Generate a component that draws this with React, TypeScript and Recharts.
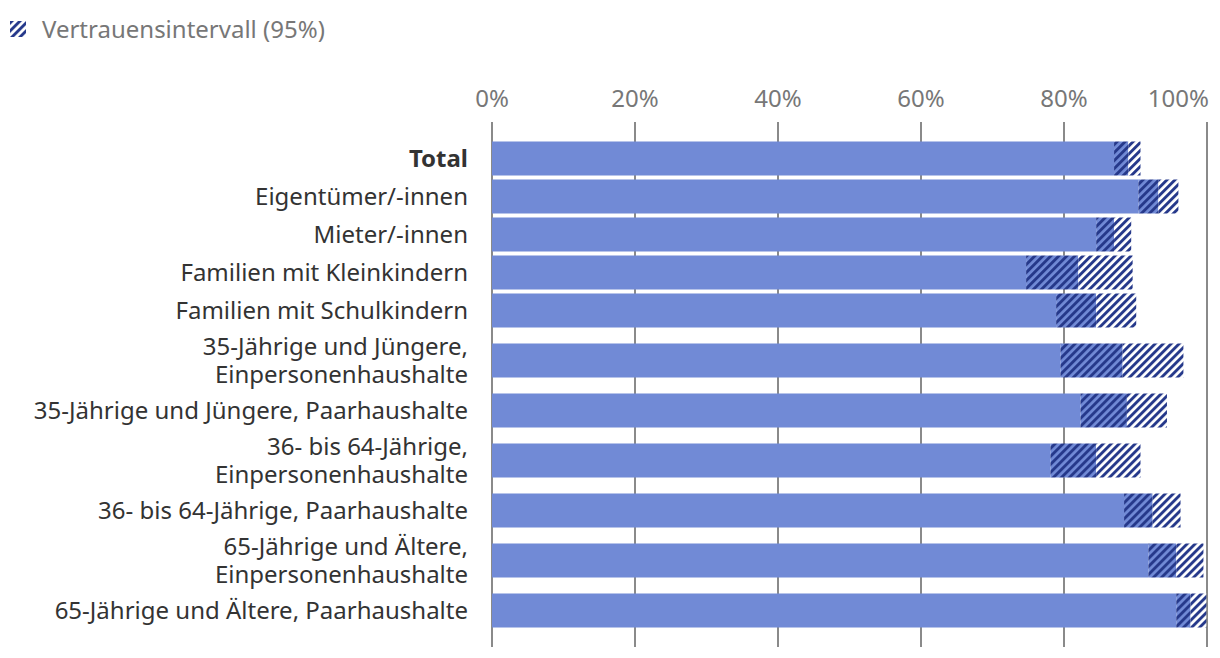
import React from "react";
import { ComposedChart, Bar, XAxis, YAxis, CartesianGrid } from "recharts";

const categories = [
  "Total",
  "Eigentümer/-innen",
  "Mieter/-innen",
  "Familien mit Kleinkindern",
  "Familien mit Schulkindern",
  "35-Jährige und Jüngere,\nEinpersonenhaushalte",
  "35-Jährige und Jüngere, Paarhaushalte",
  "36- bis 64-Jährige,\nEinpersonenhaushalte",
  "36- bis 64-Jährige, Paarhaushalte",
  "65-Jährige und Ältere,\nEinpersonenhaushalte",
  "65-Jährige und Ältere, Paarhaushalte",
];
const estimate = [89.0, 93.2, 87.0, 82.0, 84.5, 88.2, 88.8, 84.5, 92.4, 95.7, 97.7];
const lower = [87.0, 90.4, 84.5, 74.7, 78.9, 79.5, 82.3, 78.1, 88.4, 91.8, 95.7];
const upper = [90.7, 96.0, 89.4, 89.6, 90.1, 96.7, 94.4, 90.7, 96.3, 99.5, 99.9];
const xTicks = [0, 20, 40, 60, 80, 100];

const BAR = "#718ad6";
const DARK = "#26398b";
const FONT = "'Noto Sans', sans-serif";
const FS = 24;

// row slot size grows with the number of label lines
const lineCounts = categories.map((c) => c.split("\n").length);
const slotSizes = lineCounts.map((n) => 14 + 24 * n);
const positions: number[] = [];
let acc = 0;
slotSizes.forEach((s) => {
  positions.push(acc + s / 2);
  acc += s;
});
const totalSlots = acc;

const data = categories.map((c, i) => ({
  name: c,
  pos: positions[i],
  solid: lower[i],
  ciLow: estimate[i] - lower[i],
  ciHigh: upper[i] - estimate[i],
}));
const yTicks = data.map((d) => d.pos);

const YTick = (props: any) => {
  const { x, y, payload } = props;
  const idx = yTicks.findIndex((p) => Math.abs(p - payload.value) < 0.01);
  if (idx < 0) return null;
  const lines = categories[idx].split("\n");
  const lh = 28;
  const start = -((lines.length - 1) * lh) / 2;
  return (
    <text
      x={x}
      y={y}
      textAnchor="end"
      fill="#333"
      fontSize={FS}
      fontFamily={FONT}
      fontWeight={idx === 0 ? 700 : 400}
    >
      {lines.map((l, k) => (
        <tspan key={k} x={x} dy={k === 0 ? start + 8 : lh}>
          {l}
        </tspan>
      ))}
    </text>
  );
};

const XTick = (props: any) => {
  const { x, y, payload } = props;
  const last = payload.value === xTicks[xTicks.length - 1];
  return (
    <text
      x={last ? x + 2 : x}
      y={y}
      textAnchor={last ? "end" : "middle"}
      fill="#777"
      fontSize={FS}
      fontFamily={FONT}
    >
      {`${payload.value}%`}
    </text>
  );
};

export default function App() {
  return (
    <div style={{ position: "absolute", left: 0, top: 0, width: 1220, height: 658, background: "#fff", fontFamily: FONT }}>
      <div style={{ position: "absolute", left: 10, top: 12, display: "flex", alignItems: "center", color: "#777", fontSize: FS, fontFamily: FONT }}>
        <svg width={16} height={16} style={{ marginRight: 16 }}>
          <defs>
            <pattern id="legHatch" patternUnits="userSpaceOnUse" width="5.66" height="5.66" patternTransform="rotate(45)">
              <rect x="0" y="0" width="5.66" height="5.66" fill="#fff" />
              <rect x="0" y="0" width="2.9" height="5.66" fill={DARK} />
            </pattern>
          </defs>
          <rect x={0} y={0} width={16} height={16} fill="url(#legHatch)" />
        </svg>
        <span>Vertrauensintervall (95%)</span>
      </div>
      <ComposedChart
        width={1220}
        height={658}
        data={data}
        layout="vertical"
        margin={{ top: 0, right: 13, bottom: 11, left: 0 }}
      >
        <defs>
          <pattern id="hatchOnBar" patternUnits="userSpaceOnUse" width="5.66" height="5.66" patternTransform="rotate(45)">
            <rect x="0" y="0" width="5.66" height="5.66" fill={BAR} />
            <rect x="0" y="0" width="2.9" height="5.66" fill={DARK} />
          </pattern>
          <pattern id="hatchOnWhite" patternUnits="userSpaceOnUse" width="5.66" height="5.66" patternTransform="rotate(45)">
            <rect x="0" y="0" width="5.66" height="5.66" fill="#fff" />
            <rect x="0" y="0" width="2.9" height="5.66" fill={DARK} />
          </pattern>
        </defs>
        <CartesianGrid horizontal={false} vertical stroke="#8a8a8a" strokeWidth={2} />
        <XAxis
          type="number"
          orientation="top"
          domain={[0, 100]}
          ticks={xTicks}
          interval={0}
          axisLine={false}
          tickLine={false}
          tickSize={0}
          tickMargin={15}
          height={122}
          tick={<XTick />}
        />
        <YAxis
          type="number"
          dataKey="pos"
          domain={[0, totalSlots]}
          ticks={yTicks}
          interval={0}
          padding={{ top: 17.5, bottom: 17.5 }}
          axisLine={false}
          tickLine={false}
          tickSize={0}
          tickMargin={24}
          width={492}
          tick={<YTick />}
        />
        <Bar dataKey="solid" stackId="a" fill={BAR} barSize={34} isAnimationActive={false} />
        <Bar dataKey="ciLow" stackId="a" fill="url(#hatchOnBar)" barSize={34} isAnimationActive={false} />
        <Bar dataKey="ciHigh" stackId="a" fill="url(#hatchOnWhite)" barSize={34} isAnimationActive={false} />
      </ComposedChart>
    </div>
  );
}
